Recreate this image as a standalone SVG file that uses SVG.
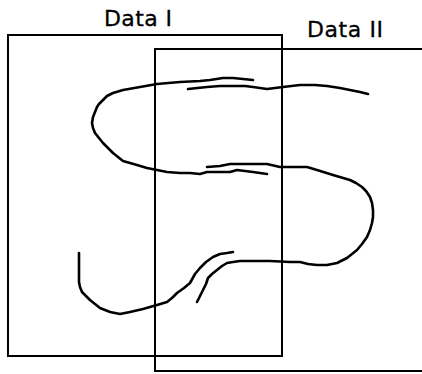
<svg xmlns="http://www.w3.org/2000/svg" width="422" height="374" viewBox="0 0 422 374">
  <style>
    .frame { fill: none; stroke: #000; stroke-width: 2; }
    .label { font-family: "DejaVu Sans", "Liberation Sans", sans-serif; font-size: 22px; fill: #000; stroke: #000; stroke-width: 0.3; }
    .trace { fill: none; stroke: #000; stroke-width: 2.6; stroke-linejoin: round; stroke-linecap: round; }
  </style>
  <rect width="422" height="374" fill="#fff"/>

  <!-- Data I region -->
  <g id="data-1">
    <rect class="frame" x="8" y="35" width="274" height="321"/>
    <text class="label" x="104" y="26" textLength="68" lengthAdjust="spacing">Data I</text>
  </g>

  <!-- Data II region (open on the right) -->
  <g id="data-2">
    <polyline class="frame" points="422,49 155,49 155,371 422,371"/>
    <text class="label" x="307" y="37" textLength="76" lengthAdjust="spacing">Data II</text>
  </g>

  <!-- hand-drawn S-shaped traces -->
  <g id="traces">
    <polyline class="trace" points="253,80 243,79 233,78 223,78 210,80 200,81 180,82 157,84 140,87 123,90 113,93 107,96 103,100 99,104 97,107 95,112 93,117 92,123 93,128 95,133 99,138 103,143 108,148 113,153 123,161 137,165 147,168 157,170 167,172 180,173 190,173 200,174 207,172 220,172 230,172 237,170 245,171 253,172 260,173 267,174"/>
    <polyline class="trace" points="188,89 207,87 220,86 233,86 245,86 253,87 267,89 275,88 283,87 300,85 315,85 327,86 340,88 350,90 360,92 368,94"/>
    <polyline class="trace" points="207,167 220,166 230,164 250,164 267,164 280,167 290,167 307,167 317,170 333,175 350,180 356,183 362,187 366,191 370,197 372,203 373,210 373,217 372,223 370,230 367,237 362,244 357,250 352,254 347,258 337,263 327,265 317,265 308,264 300,262 290,262 270,261 250,261 240,261 233,262 227,263 222,266 217,270 212,274 208,278 206,284 203,290 200,296 197,302"/>
    <polyline class="trace" points="79,253 79,268 79,282 80,287 82,292 86,296 90,300 95,304 100,308 110,312 120,314 130,312 143,309 157,305 167,302 172,298 177,293 184,288 190,283 195,274 200,268 206,262 213,257 220,254 227,253 233,252"/>
  </g>
</svg>
